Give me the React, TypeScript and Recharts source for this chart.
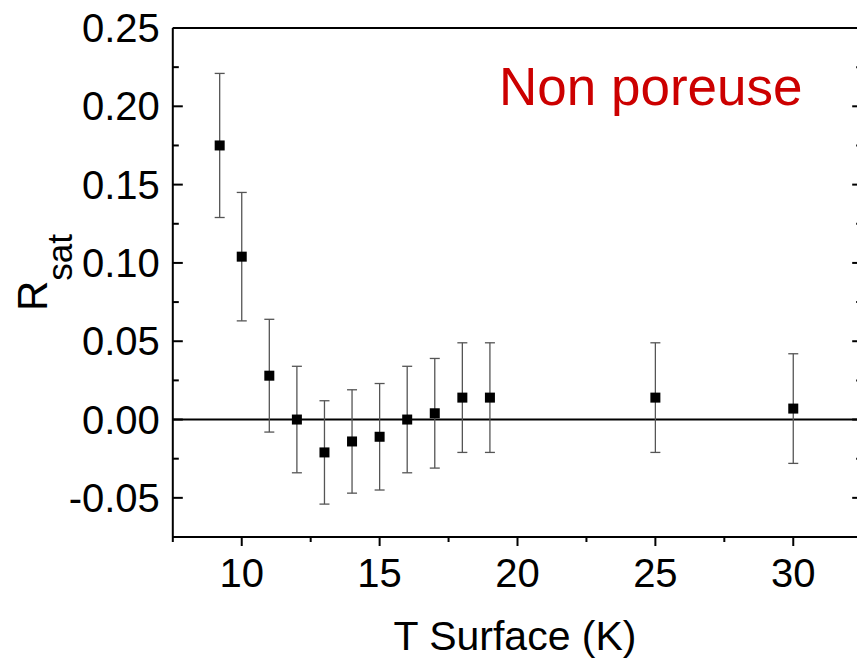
import { ErrorBar, ReferenceLine, Scatter, ScatterChart, XAxis, YAxis } from "recharts";

// values
const temperatures = [9.2, 10, 11, 12, 13, 14, 15, 16, 17, 18, 19, 25, 30];
const rsat = [0.175, 0.104, 0.028, 0.0, -0.021, -0.014, -0.011, 0.0, 0.004, 0.014, 0.014, 0.014, 0.007];
const rsatError = [0.046, 0.041, 0.036, 0.034, 0.033, 0.033, 0.034, 0.034, 0.035, 0.035, 0.035, 0.035, 0.035];

const xTicks = [7.5, 10, 12.5, 15, 17.5, 20, 22.5, 25, 27.5, 30, 32.5];
const xMajor = [10, 15, 20, 25, 30];
const yTicks = [-0.075, -0.05, -0.025, 0, 0.025, 0.05, 0.075, 0.1, 0.125, 0.15, 0.175, 0.2, 0.225, 0.25];
const yMajor = [-0.05, 0, 0.05, 0.1, 0.15, 0.2, 0.25];

const FONT = "'Liberation Sans', Arial, sans-serif";

const isIn = (v: number, arr: number[]) => arr.some((a) => Math.abs(a - v) < 1e-9);

function BottomTick(props: any) {
  const { x, y, payload } = props;
  const major = isIn(payload.value, xMajor);
  return (
    <g>
      <line x1={x} x2={x} y1={y} y2={y + (major ? 9 : 5)} stroke="#000" strokeWidth={2} />
      {major && (
        <text x={x} y={y + 50} textAnchor="middle" fontSize={40} fontFamily={FONT} fill="#000">
          {payload.value}
        </text>
      )}
    </g>
  );
}

function TopTick(props: any) {
  const { x, y, payload } = props;
  const major = isIn(payload.value, xMajor);
  return <line x1={x} x2={x} y1={y} y2={y + (major ? 10 : 3)} stroke="#000" strokeWidth={2} />;
}

function LeftTick(props: any) {
  const { x, y, payload } = props;
  const major = isIn(payload.value, yMajor);
  return (
    <g>
      <line x1={x} x2={x + (major ? 10 : 6)} y1={y} y2={y} stroke="#000" strokeWidth={2} />
      {major && (
        <text x={x - 13} y={y + 14} textAnchor="end" fontSize={40} fontFamily={FONT} fill="#000">
          {payload.value.toFixed(2)}
        </text>
      )}
    </g>
  );
}

function RightTick(props: any) {
  const { x, y, payload } = props;
  const major = isIn(payload.value, yMajor);
  return <line x1={x} x2={x - (major ? 10 : 6)} y1={y} y2={y} stroke="#000" strokeWidth={2} />;
}

function Square(props: any) {
  const { cx, cy } = props;
  return <rect x={cx - 5} y={cy - 5} width={10} height={10} fill="#000" />;
}

export default function App() {
  const data = temperatures.map((t, i) => ({ t, r: rsat[i], err: rsatError[i] }));
  const axisLine = { stroke: "#000", strokeWidth: 2 };

  return (
    <div style={{ position: "absolute", left: 0, top: 0, width: 857, height: 659, background: "#fff" }}>
      <ScatterChart width={857} height={659} margin={{ top: 28, right: -5.2, bottom: 122, left: 172.8 }}>
        <XAxis
          xAxisId="bottom"
          type="number"
          dataKey="t"
          orientation="bottom"
          mirror
          domain={[7.5, 32.5]}
          allowDataOverflow
          ticks={xTicks}
          interval={0}
          tickSize={0}
          tickMargin={0}
          tickLine={false}
          axisLine={axisLine}
          tick={BottomTick}
          label={() => (
            <text x={515} y={650} textAnchor="middle" fontSize={41} fontFamily={FONT} fill="#000">
              T Surface (K)
            </text>
          )}
        />
        <XAxis
          xAxisId="top"
          type="number"
          orientation="top"
          mirror
          domain={[7.5, 32.5]}
          allowDataOverflow
          ticks={xTicks}
          interval={0}
          tickSize={0}
          tickMargin={0}
          tickLine={false}
          axisLine={axisLine}
          tick={TopTick}
          label={() => (
            <text x={499} y={105} textAnchor="start" fontSize={53} fontFamily={FONT} fill="#CC0000">
              Non poreuse
            </text>
          )}
        />
        <YAxis
          yAxisId="left"
          type="number"
          dataKey="r"
          orientation="left"
          mirror
          domain={[-0.075, 0.25]}
          allowDataOverflow
          ticks={yTicks}
          interval={0}
          tickSize={0}
          tickMargin={0}
          tickLine={false}
          axisLine={axisLine}
          tick={LeftTick}
          label={() => (
            <text transform="translate(47,311) rotate(-90)" fontSize={42} fontFamily={FONT} fill="#000">
              R
              <tspan fontSize={35} dy={25}>
                sat
              </tspan>
            </text>
          )}
        />
        <YAxis
          yAxisId="right"
          type="number"
          orientation="right"
          mirror
          domain={[-0.075, 0.25]}
          allowDataOverflow
          ticks={yTicks}
          interval={0}
          tickSize={0}
          tickMargin={0}
          tickLine={false}
          axisLine={axisLine}
          tick={RightTick}
        />
        <ReferenceLine xAxisId="bottom" yAxisId="left" y={0} stroke="#000" strokeWidth={2} />
        <Scatter
          data={data}
          xAxisId="bottom"
          yAxisId="left"
          shape={Square}
          isAnimationActive={false}
        >
          <ErrorBar dataKey="err" direction="y" width={5} stroke="#555" strokeWidth={1.3} isAnimationActive={false} />
        </Scatter>
      </ScatterChart>
    </div>
  );
}
